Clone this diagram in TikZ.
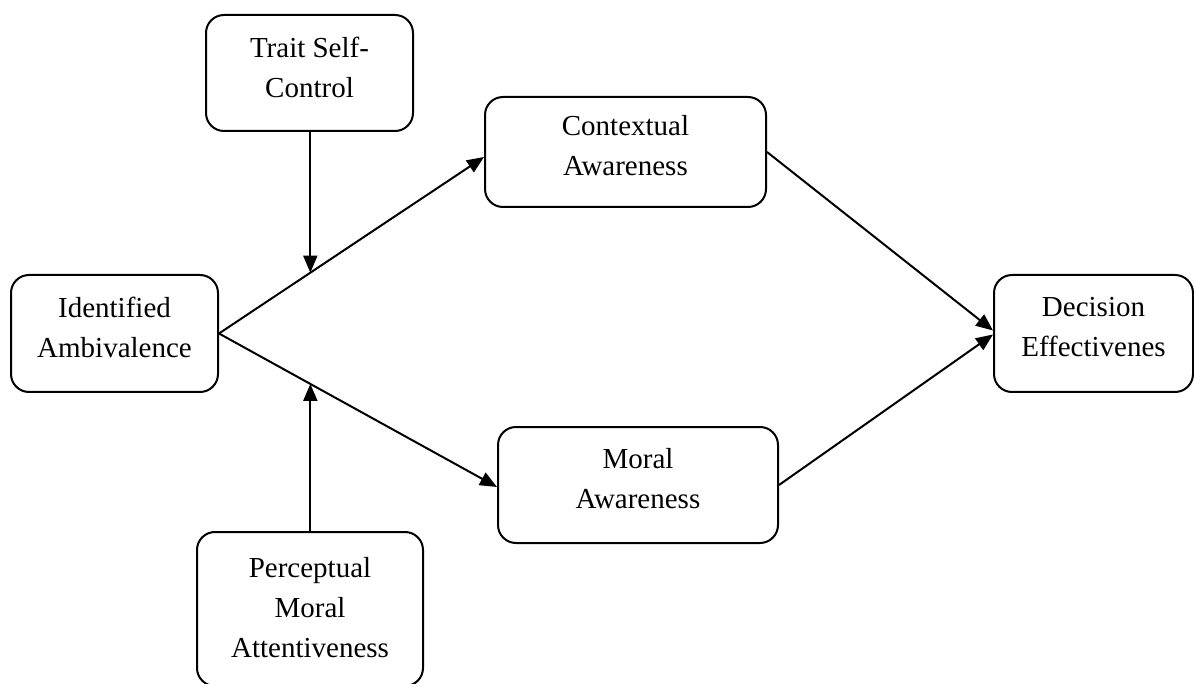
\documentclass[tikz,border=0pt]{standalone}
\usepackage{fontspec}
\setmainfont{Liberation Serif}
\usetikzlibrary{arrows.meta,positioning}

\begin{document}
\begin{tikzpicture}[x=1pt,y=-1pt]
			\tikzset{
				box/.style={draw, line width=2pt, rounded corners=18pt, inner sep=0pt},
				boxtext/.style={align=center, font={\fontsize{29}{40}\selectfont}, yshift=6pt},
				arrow/.style={-{Triangle[length=17pt,width=14pt]}, line width=2pt},
			}
			\useasboundingbox (0,0) rectangle (1194,684);

			% boxes
			\node[box, minimum width=207pt, minimum height=116pt] (trait) at (309.5,73) {};
			\node[box, minimum width=281pt, minimum height=110pt] (ctx) at (625.5,152) {};
			\node[box, minimum width=207pt, minimum height=117pt] (ident) at (114.5,333.5) {};
			\node[box, minimum width=199pt, minimum height=117pt] (dec) at (1093.5,333.5) {};
			\node[box, minimum width=280pt, minimum height=116pt] (moral) at (638,485) {};
			\node[box, minimum width=226pt, minimum height=154pt] (percep) at (310,609) {};

			\node[boxtext] (traittext) at (trait.center) {Trait Self-\\Control};
			\node[boxtext] (ctxtext) at (ctx.center) {Contextual\\Awareness};
			\node[boxtext] (identtext) at (ident.center) {Identified\\Ambivalence};
			\node[boxtext] (dectext) at (dec.center) {Decision\\Effectivenes};
			\node[boxtext] (moraltext) at (moral.center) {Moral\\Awareness};
			\node[boxtext, yshift=-5pt] (perceptext) at (percep.center) {Perceptual\\Moral\\Attentiveness};

			% paths
			\draw[arrow] (ident.east) -- coordinate[pos=0.3446] (upmid) ([yshift=-5pt]ctx.west);
			\draw[arrow] (ident.east) -- coordinate[pos=0.3286] (lowmid) ([yshift=-2pt]moral.west);
			\draw[arrow] (ctx.east) -- ([yshift=3pt]dec.west);
			\draw[arrow] (moral.east) -- ([yshift=-1pt]dec.west);

			% moderators
			\draw[arrow] (upmid |- trait.south) -- (upmid);
			\draw[arrow] (lowmid |- percep.north) -- (lowmid);

		\end{tikzpicture}
\end{document}
